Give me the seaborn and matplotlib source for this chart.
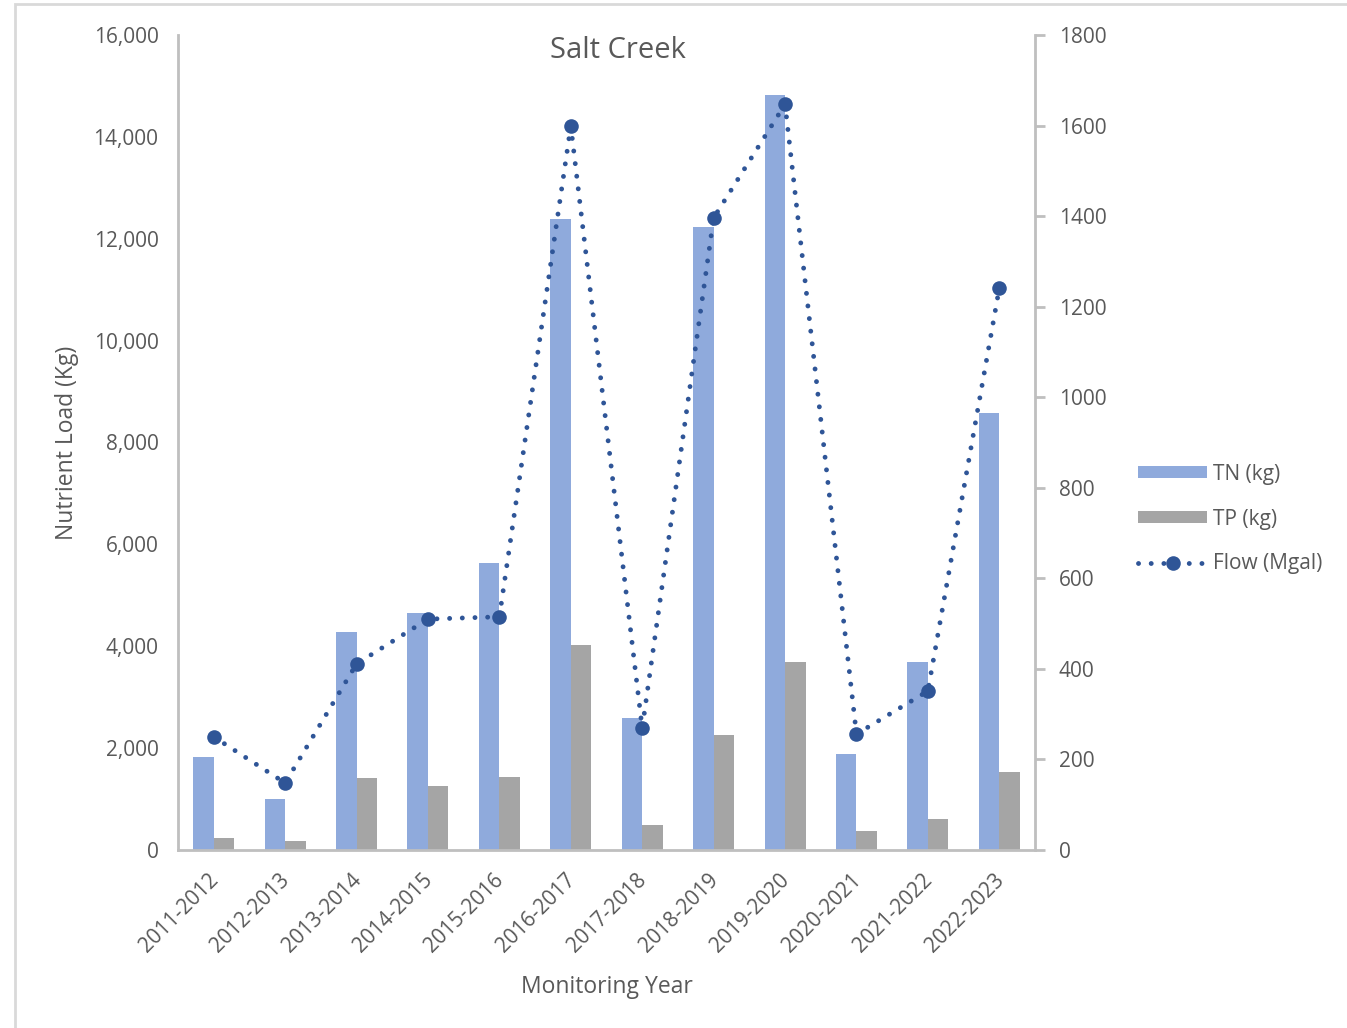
import numpy as np
import pandas as pd
import matplotlib
matplotlib.use("Agg")
import matplotlib.pyplot as plt
import matplotlib.transforms as mtransforms
from matplotlib.patches import Rectangle
from matplotlib.ticker import FuncFormatter, MultipleLocator
import seaborn as sns

# Monitoring data for Salt Creek
years = ["2011-2012", "2012-2013", "2013-2014", "2014-2015", "2015-2016", "2016-2017",
         "2017-2018", "2018-2019", "2019-2020", "2020-2021", "2021-2022", "2022-2023"]
tn_kg = [1830, 1000, 4280, 4650, 5630, 12390, 2590, 12230, 14820, 1880, 3690, 8580]
tp_kg = [230, 180, 1410, 1260, 1430, 4020, 490, 2260, 3690, 370, 610, 1530]
flow_mgal = [250, 148, 411, 510, 515, 1599, 269, 1396, 1647, 256, 351, 1241]

series_names = ["TN (kg)", "TP (kg)"]
flow_name = "Flow (Mgal)"

TN_COLOR = "#8FAADC"
TP_COLOR = "#A5A5A5"
FLOW_COLOR = "#2F5597"
TEXT = "#595959"
AXIS = "#BFBFBF"
TICK_FS = 15
LABEL_FS = 16.5

sns.set_theme(style="white")
plt.rcParams["font.family"] = ["Open Sans", "DejaVu Sans"]

loads = pd.DataFrame({
    "Monitoring Year": years * 2,
    "Load": tn_kg + tp_kg,
    "Nutrient": [series_names[0]] * len(years) + [series_names[1]] * len(years),
})
flow = pd.DataFrame({"pos": np.arange(len(years)), "Flow": flow_mgal})

fig = plt.figure(figsize=(13.47, 10.28), dpi=100)
ax = fig.add_axes([178 / 1347, 1 - 850 / 1028, (1035 - 178) / 1347, (850 - 35) / 1028])

sns.barplot(data=loads, x="Monitoring Year", y="Load", hue="Nutrient",
            palette=[TN_COLOR, TP_COLOR], width=0.575, saturation=1,
            linewidth=0, ax=ax, legend=False)

ax2 = ax.twinx()
sns.lineplot(data=flow, x="pos", y="Flow", ax=ax2, color=FLOW_COLOR,
             linewidth=3.5, marker="o", markersize=10.5, markeredgewidth=0,
             legend=False)
line = ax2.get_lines()[0]
line.set_linestyle((0, (0.01, 2.6)))
line.set_dash_capstyle("round")

# axes limits and ticks
ax.set_xlim(-0.5, len(years) - 0.5)
ax.set_ylim(0, 16000)
ax.yaxis.set_major_locator(MultipleLocator(2000))
ax.yaxis.set_major_formatter(FuncFormatter(lambda v, p: f"{int(v):,}"))
ax2.set_ylim(0, 1800)
ax2.yaxis.set_major_locator(MultipleLocator(200))

for a in (ax, ax2):
    for s in a.spines.values():
        s.set_visible(False)
ax.spines["left"].set_visible(True)
ax.spines["bottom"].set_visible(True)
ax2.spines["right"].set_visible(True)
for s in (ax.spines["left"], ax.spines["bottom"], ax2.spines["right"]):
    s.set_color(AXIS)
    s.set_linewidth(2)

ax.tick_params(axis="y", length=0, labelsize=TICK_FS, labelcolor=TEXT, pad=14)
ax.tick_params(axis="x", length=0, labelsize=TICK_FS, labelcolor=TEXT, pad=14)
ax2.tick_params(axis="y", length=7, width=2, color=AXIS, labelsize=TICK_FS,
                labelcolor=TEXT, pad=10, right=True)
shift = mtransforms.ScaledTranslation(-6 / 100, 0, fig.dpi_scale_trans)
for lbl in ax.get_xticklabels():
    lbl.set_rotation(45)
    lbl.set_ha("right")
    lbl.set_rotation_mode("anchor")
    lbl.set_transform(lbl.get_transform() + shift)

ax.set_xlabel("Monitoring Year", fontsize=LABEL_FS, color=TEXT)
ax.set_ylabel("Nutrient Load (Kg)", fontsize=LABEL_FS, color=TEXT)
ax.xaxis.set_label_coords(0.5, -(975 - 850) / 815)
ax.yaxis.set_label_coords(-(178 - 79) / 857, 0.5)
ax2.set_ylabel("")
ax.text((618 - 178) / 857, 1 - 15 / 815, "Salt Creek", transform=ax.transAxes,
        ha="center", va="center", fontsize=21, color=TEXT)

ax.grid(False)
ax2.grid(False)

# legend
handles = [
    Rectangle((0, 0), 1, 1, facecolor=TN_COLOR, edgecolor="none"),
    Rectangle((0, 0), 1, 1, facecolor=TP_COLOR, edgecolor="none"),
    plt.Line2D([], [], color=FLOW_COLOR, linewidth=3.5, linestyle=(0, (0.01, 2.6)),
               dash_capstyle="round", marker="o", markersize=10.5, markeredgewidth=0),
]
fig.legend(handles, series_names + [flow_name], loc="center left",
           bbox_to_anchor=(1128 / 1347, 1 - 519 / 1028), bbox_transform=fig.transFigure,
           frameon=False, fontsize=TICK_FS, labelcolor=TEXT, handlelength=3.3,
           handleheight=0.55, handletextpad=0.3, labelspacing=1.15, borderpad=0)

# chart border
fig.patches.append(Rectangle((15 / 1347, -0.01), 1.0, 1 - 4 / 1028 + 0.01,
                             transform=fig.transFigure, fill=False,
                             edgecolor="#D9D9D9", linewidth=2))

fig.savefig("out.png", dpi=100, facecolor="white")
